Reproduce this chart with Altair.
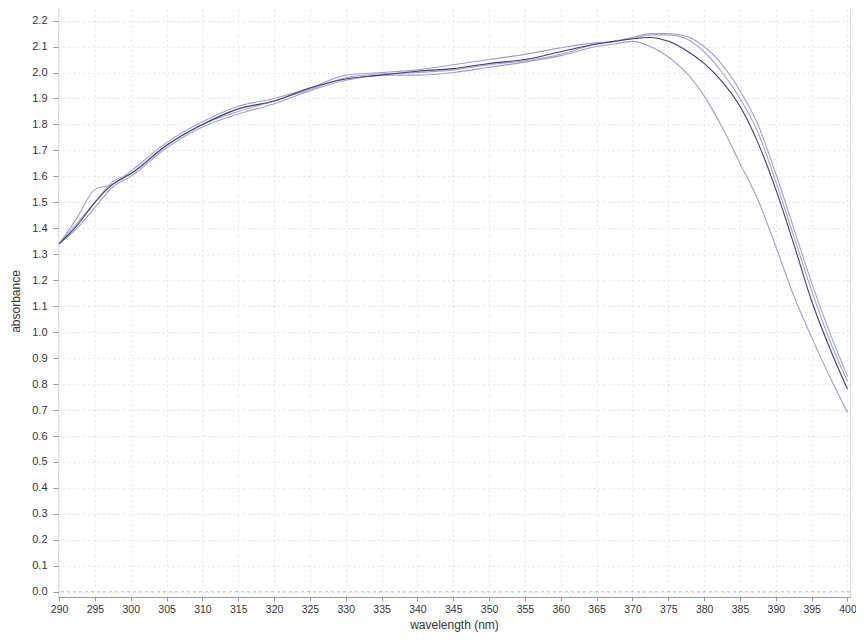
import altair as alt
import pandas as pd

wavelength = [290, 292.5, 295, 297.5, 300, 305, 310, 315, 320, 325, 330, 335, 340, 345,
              350, 355, 360, 365, 367.5, 370, 372.5, 375, 377.5, 380, 382.5, 385, 387.5,
              390, 392.5, 395, 397.5, 400]

mean_curve = [1.34, 1.41, 1.50, 1.57, 1.61, 1.72, 1.80, 1.86, 1.89, 1.94, 1.975, 1.99, 2.005,
              2.015, 2.035, 2.05, 2.08, 2.11, 2.12, 2.13, 2.135, 2.12, 2.085, 2.035, 1.965, 1.87,
              1.73, 1.55, 1.34, 1.12, 0.94, 0.78]
sample_1 = [1.34, 1.40, 1.48, 1.56, 1.60, 1.71, 1.79, 1.84, 1.88, 1.93, 1.97, 1.99, 1.99,
            2.00, 2.02, 2.04, 2.065, 2.10, 2.11, 2.12, 2.10, 2.06, 2.00, 1.91, 1.79, 1.65,
            1.51, 1.33, 1.14, 0.98, 0.83, 0.69]
sample_2 = [1.34, 1.44, 1.55, 1.57, 1.62, 1.73, 1.81, 1.87, 1.90, 1.94, 1.99, 2.00, 2.01,
            2.03, 2.05, 2.07, 2.095, 2.115, 2.12, 2.135, 2.15, 2.15, 2.14, 2.10, 2.03, 1.93,
            1.80, 1.61, 1.40, 1.19, 1.00, 0.83]
sample_3 = [1.34, 1.42, 1.50, 1.58, 1.61, 1.72, 1.80, 1.85, 1.89, 1.935, 1.98, 1.995, 2.00,
            2.01, 2.03, 2.045, 2.07, 2.11, 2.12, 2.13, 2.145, 2.145, 2.13, 2.08, 2.00, 1.90,
            1.77, 1.58, 1.37, 1.16, 0.97, 0.81]

series = {"s1": sample_1, "s2": sample_2, "s3": sample_3, "mean": mean_curve}
rows = []
for order, (name, vals) in enumerate(series.items()):
    for w, v in zip(wavelength, vals):
        rows.append({"wavelength": w, "absorbance": v, "series": name, "order": order})
df = pd.DataFrame(rows)

x_ticks = list(range(290, 401, 5))
y_ticks = [round(i * 0.1, 1) for i in range(0, 23)]

xs = alt.Scale(domain=[289.85, 400.35], nice=False, zero=False)
ys = alt.Scale(domain=[-0.02, 2.26], nice=False, zero=False)

y_axis = alt.Axis(values=y_ticks, title="absorbance", format=".1f",
                  grid=True, gridDash=[1, 4], gridColor="#cfcfcf",
                  tickSize=5, tickColor="#999", domain=False,
                  labelFlush=False, labelOverlap=False, labelPadding=6,
                  labelFontSize=11, labelColor="#333", titleFontSize=12,
                  titleFontWeight="normal", titleColor="#333", titlePadding=9,
                  labelFont="Liberation Sans", titleFont="Liberation Sans")

lines = alt.Chart(df).mark_line(strokeWidth=1.1, interpolate="monotone").encode(
    x=alt.X("wavelength:Q", scale=xs,
            axis=alt.Axis(values=x_ticks, title="wavelength (nm)", format="d",
                          grid=True, gridDash=[1, 4], gridColor="#cfcfcf",
                          tickSize=4, tickColor="#999", domainColor="#999",
                          labelFlush=False, labelOverlap=False, labelPadding=3,
                          labelFontSize=10.5, labelColor="#333", titleFontSize=12,
                          titleFontWeight="normal", titleColor="#333", titlePadding=5,
                          labelFont="Liberation Sans", titleFont="Liberation Sans")),
    y=alt.Y("absorbance:Q", scale=ys, axis=y_axis),
    color=alt.Color("series:N",
                    scale=alt.Scale(domain=["s1", "s2", "s3", "mean"],
                                    range=["#9f9fcc", "#9f9fcc", "#a3a3d0", "#3b3b78"]),
                    legend=None),
    order=alt.Order("order:Q"),
)

zero_df = pd.DataFrame({"y": [0.0]})
zero_rule = alt.Chart(zero_df).mark_rule(color="#bbb", strokeDash=[3, 3], strokeWidth=1).encode(
    y=alt.Y("y:Q", scale=ys, axis=y_axis)
)

chart = alt.layer(lines, zero_rule).properties(
    width=792, height=592,
    autosize=alt.AutoSizeParams(type="none"),
    padding={"left": 50, "top": -3, "right": 6, "bottom": 37},
).configure_view(stroke="#c8c8c8", strokeDash=[2, 2], strokeWidth=1).configure(background="white")

chart.save("out.html", embed_options={"renderer": "svg", "actions": False})
